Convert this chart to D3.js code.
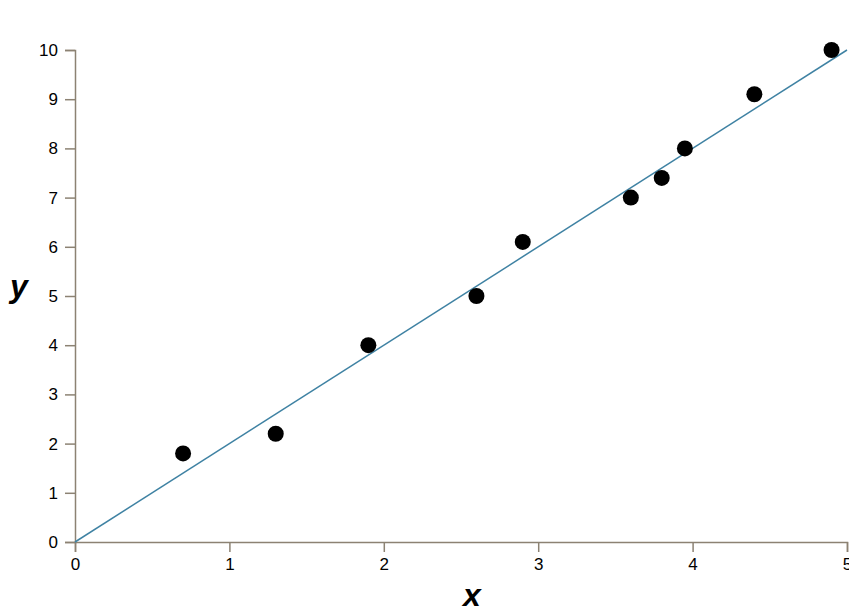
<!DOCTYPE html>
<html><head><meta charset="utf-8">
<script src="https://cdn.jsdelivr.net/npm/d3@7"></script>
<style>body{margin:0;background:#fff}svg{display:block}</style>
</head><body>
<script>
const xValues = [0.7, 1.3, 1.9, 2.6, 2.9, 3.6, 3.8, 3.95, 4.4, 4.9];
const yValues = [1.8, 2.2, 4.0, 5.0, 6.1, 7.0, 7.4, 8.0, 9.1, 10.0];
const fitLine = [[0, 0], [5, 10]];
const xTicks = [0, 1, 2, 3, 4, 5];
const yTicks = [0, 1, 2, 3, 4, 5, 6, 7, 8, 9, 10];

const W = 849, H = 609;
const m = {left: 75, top: 50, right: 2, bottom: 67};
const svg = d3.select("body").append("svg").attr("width", W).attr("height", H);
const x = d3.scaleLinear().domain([0, 5]).range([m.left, W - m.right]);
const y = d3.scaleLinear().domain([0, 10]).range([H - m.bottom, m.top]);
const axisColor = "#8c8273";
const font = "Liberation Sans, Arial, sans-serif";

const gx = svg.append("g").attr("transform", `translate(0,${H - m.bottom})`)
  .call(d3.axisBottom(x).tickValues(xTicks).tickFormat(d3.format("d")).tickSize(10).tickPadding(6));
const gy = svg.append("g").attr("transform", `translate(${m.left},0)`)
  .call(d3.axisLeft(y).tickValues(yTicks).tickFormat(d3.format("d")).tickSize(10).tickPadding(7));
[gx, gy].forEach(g => {
  g.selectAll("path,line").attr("stroke", axisColor).attr("stroke-width", 1.5);
  g.selectAll("text").attr("fill", "#000").style("font-family", font).style("font-size", "17px");
});

svg.append("path").datum(fitLine)
  .attr("d", d3.line().x(d => x(d[0])).y(d => y(d[1])))
  .attr("fill", "none").attr("stroke", "#3f82a3").attr("stroke-width", 1.5);

svg.append("g").selectAll("circle").data(xValues.map((v, i) => [v, yValues[i]]))
  .join("circle").attr("cx", d => x(d[0])).attr("cy", d => y(d[1])).attr("r", 8).attr("fill", "#000");

svg.append("text").attr("x", 472).attr("y", 606).attr("text-anchor", "middle")
  .style("font-family", font).style("font-size", "32px")
  .style("font-weight", "bold").style("font-style", "italic").text("x");
svg.append("text").attr("x", 19).attr("y", 297).attr("text-anchor", "middle")
  .style("font-family", font).style("font-size", "32px")
  .style("font-weight", "bold").style("font-style", "italic").text("y");
</script>
</body></html>
